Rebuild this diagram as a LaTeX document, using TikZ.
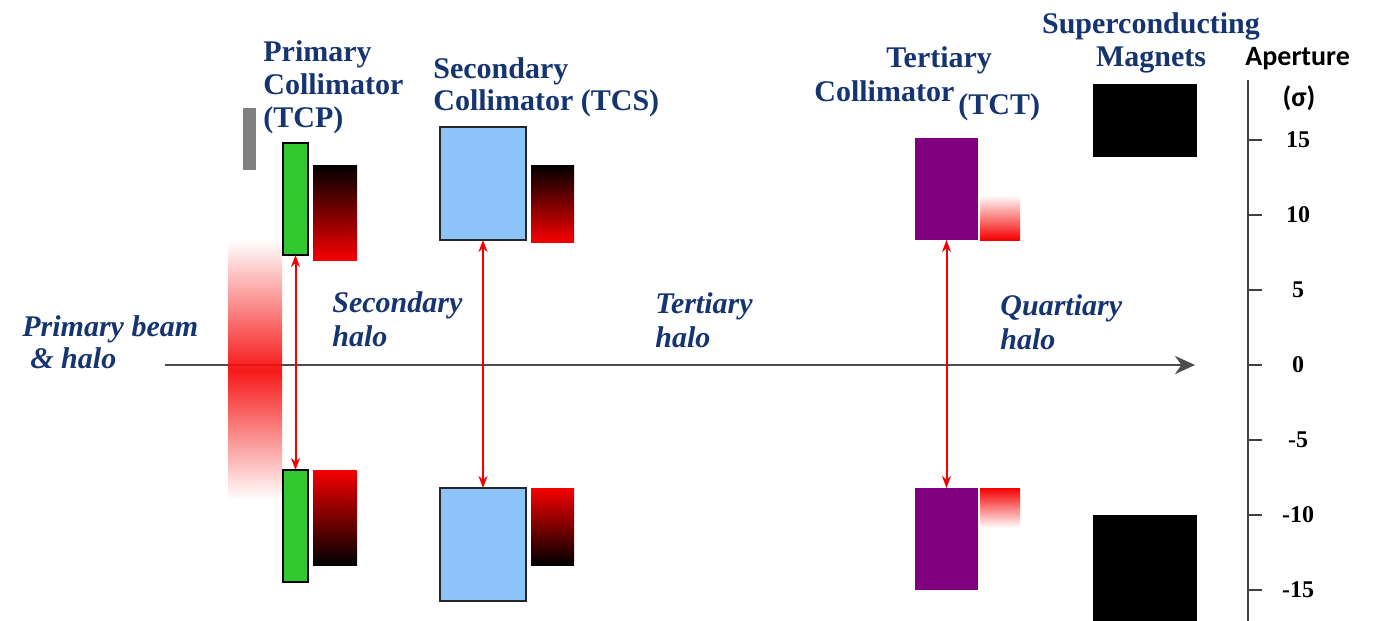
\documentclass[tikz,border=0pt]{standalone}
\usepackage{fontspec}
\setmainfont{Liberation Serif}
\newfontfamily\apfont{Carlito}
\usetikzlibrary{arrows.meta}
\definecolor{labelblue}{RGB}{22,52,112}
\definecolor{tcpgreen}{RGB}{50,200,50}
\definecolor{tcsblue}{RGB}{140,196,250}
\definecolor{tctpurple}{RGB}{128,0,128}
\definecolor{lossred}{RGB}{245,0,0}
\begin{document}
\begin{tikzpicture}[x=0.5pt,y=-0.5pt,
    box/.style={anchor=north west,inner sep=0pt,outer sep=0pt},
    lbl/.style={anchor=north west,inner sep=0pt,text=labelblue,font=\fontsize{15}{16.5}\selectfont\bfseries},
    halo/.style={lbl,align=left,font=\fontsize{15}{17}\selectfont\bfseries\itshape},
    gap/.style={lossred,line width=1pt,{Stealth[length=6pt,width=4.5pt]}-{Stealth[length=6pt,width=4.5pt]}},
    axisline/.style={black!75,line width=1pt}]
  \useasboundingbox (0,0) rectangle (1377,621);

  \coordinate (beamin) at (165,365);
  \coordinate (beamout) at (1195,365);
  \draw[black!70,line width=1.4pt,-{Stealth[length=10pt,width=9pt]}] (beamin) -- (beamout);
  \node[box,top color=white,bottom color=white,middle color=lossred,opacity=0.9,
    minimum width=27pt,minimum height=130pt] (glow) at (228,240) {};

  \node[box,fill=gray,minimum width=6.5pt,minimum height=31pt] (graybar) at (243,108) {};

  \node[box,draw=black,line width=0.8pt,fill=tcpgreen,minimum width=12.5pt,minimum height=56pt] (tcpup) at (283,143) {};
  \node[box,draw=black,line width=0.8pt,fill=tcpgreen,minimum width=12.5pt,minimum height=56pt] (tcpdown) at (283,470) {};
  \node[box,top color=black,bottom color=lossred,minimum width=22pt,minimum height=47.5pt] (tcplossup) at (313,165) {};
  \node[box,top color=lossred,bottom color=black,minimum width=22pt,minimum height=47.5pt] (tcplossdown) at (313,470) {};

  \node[box,draw=black!85,line width=1pt,fill=tcsblue,minimum width=43pt,minimum height=56.5pt] (tcsup) at (440,127) {};
  \node[box,draw=black!85,line width=1pt,fill=tcsblue,minimum width=43pt,minimum height=56.5pt] (tcsdown) at (440,488) {};
  \node[box,top color=black,bottom color=lossred,minimum width=21.5pt,minimum height=38.5pt] (tcslossup) at (531,165) {};
  \node[box,top color=lossred,bottom color=black,minimum width=21.5pt,minimum height=38.5pt] (tcslossdown) at (531,488) {};

  \node[box,fill=tctpurple,minimum width=31.5pt,minimum height=51pt] (tctup) at (915,138) {};
  \node[box,fill=tctpurple,minimum width=31.5pt,minimum height=51pt] (tctdown) at (915,488) {};
  \node[box,top color=white,bottom color=lossred,minimum width=20pt,minimum height=22.5pt] (tctlossup) at (980,195) {};
  \node[box,top color=lossred,bottom color=white,minimum width=20pt,minimum height=20pt] (tctlossdown) at (980,488) {};

  \node[box,fill=black,minimum width=52pt,minimum height=36.5pt] (magnetup) at (1093,84) {};
  \node[box,fill=black,minimum width=52pt,minimum height=53pt] (magnetdown) at (1093,515) {};

  \draw[gap] (tcpup.south) -- (tcpdown.north);
  \draw[gap] (tcsup.south) -- (tcsdown.north);
  \draw[gap] (tctup.south) -- (tctdown.north);

  \node[lbl,align=left] (tcplabel) at (263,40) {Primary\\Collimator\\(TCP)};
  \node[lbl,align=left,font=\fontsize{15}{16}\selectfont\bfseries] (tcslabel) at (433,57) {Secondary\\Collimator (TCS)};
  \node[lbl,anchor=base west] (tctname) at (886,68) {Tertiary};
  \node[lbl,anchor=base west] (tctcoll) at (814,101) {Collimator};
  \node[lbl,anchor=base west] (tctshort) at (958,114) {(TCT)};
  \node[lbl,align=center,anchor=north,font=\fontsize{15}{16.5}\selectfont\bfseries] (magnetlabel) at (1151,12) {Superconducting\\Magnets};

  \node[halo,font=\fontsize{15}{16}\selectfont\bfseries\itshape] (beamlabel) at (22,315) {Primary beam\\\hspace*{4pt}\& halo};
  \node[halo] (seclabel) at (332,291) {Secondary\\halo};
  \node[halo] (terlabel) at (655,292) {Tertiary\\halo};
  \node[halo] (quartlabel) at (1000,294) {Quartiary\\halo};

  \coordinate (aptop) at (1248,80);
  \coordinate (apbot) at (1248,621);
  \draw[axisline] (aptop) -- (apbot);
  \node[anchor=base west,inner sep=0pt,font=\apfont\bfseries\fontsize{14}{16}\selectfont] (aplabel) at (1245,65) {Aperture};
  \node[inner sep=0pt,font=\apfont\bfseries\fontsize{14}{16}\selectfont] (apunit) at (1299,98) {(σ)};
  \foreach \v in {15,10,...,-15} {
    \draw[axisline] (1248,{365-15*\v}) -- ++(14,0);
    \node[inner sep=0pt,font=\fontsize{12}{14}\selectfont\bfseries] (ap\v) at (1298,{365-15*\v}) {\v};
  }
\end{tikzpicture}
\end{document}
